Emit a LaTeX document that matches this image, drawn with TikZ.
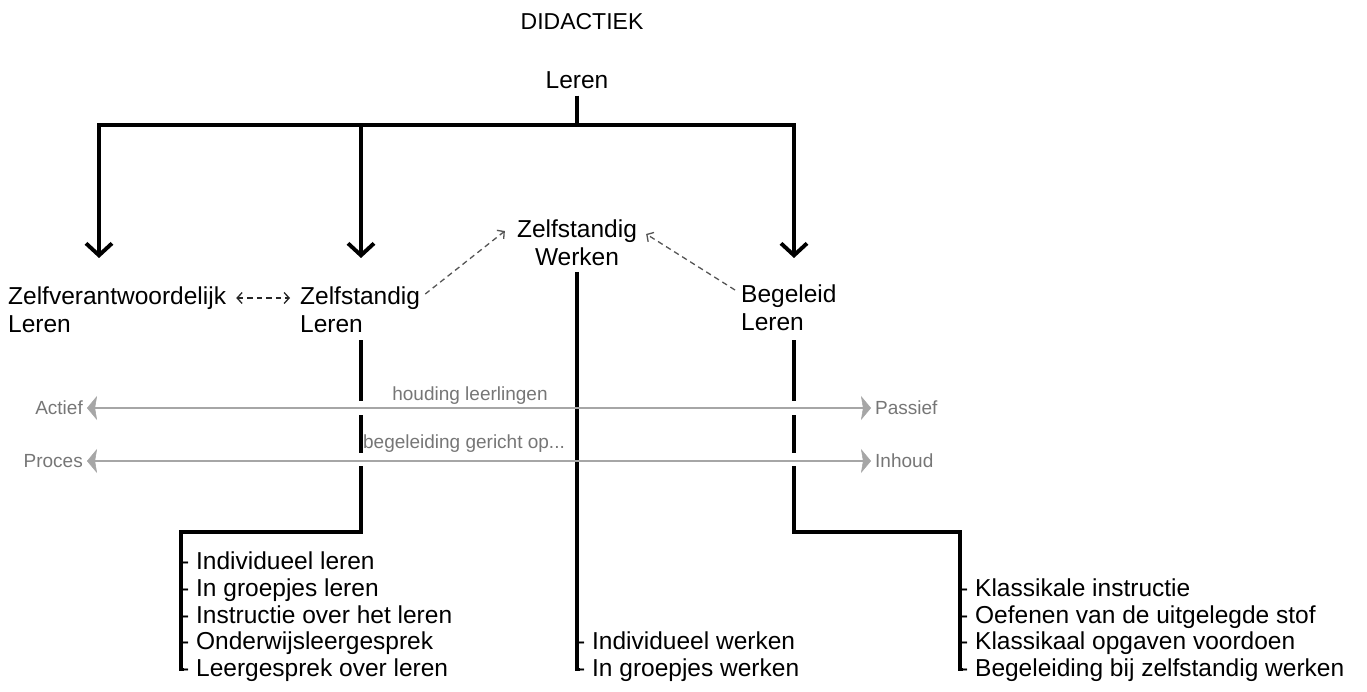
\documentclass[tikz,border=0pt]{standalone}
\usepackage{fontspec}
\setmainfont{Liberation Sans}
\usetikzlibrary{arrows.meta}
\definecolor{gline}{HTML}{A6A6A6}
\definecolor{gtext}{HTML}{767676}
\definecolor{dgray}{HTML}{555555}
\tikzset{
  dtip/.tip={Straight Barb[length=5pt,width=11pt]},
  gtip/.tip={Stealth[length=10pt,width=24pt,inset=2pt,line width=0.5pt]},
  btip/.tip={Straight Barb[length=12pt,width=26pt]}
}
\begin{document}
\begin{tikzpicture}[x=1pt,y=-1pt,
  main/.style={font=\fontsize{24.5}{28}\selectfont, inner sep=0pt, align=left},
  titlefont/.style={font=\fontsize{23}{27}\selectfont, inner sep=0pt},
  glabel/.style={font=\fontsize{19}{22}\selectfont, text=gtext, inner sep=0pt},
  item/.style={font=\fontsize{24.5}{28}\selectfont, inner sep=0pt, anchor=base west},
  bk/.style={line width=3.9pt, black},
  bkarrow/.style={bk, -btip},
  dsh/.style={line width=1.3pt, dash pattern=on 5.5pt off 4pt},
  gl/.style={line width=1.5pt, gline, gtip-gtip},
  gap/.style={white, line width=6.5pt}
]
\useasboundingbox (0,0) rectangle (1367,692);

% texts
\node[titlefont] (title) at (582,22) {DIDACTIEK};
\node[main, inner sep=7pt] (leren) at (577,80) {Leren};
\node[main, anchor=west] (zv) at (8,310) {Zelfverantwoordelijk\\Leren};
\node[main, anchor=west] (zl) at (300,310) {Zelfstandig\\Leren};
\node[main, align=center] (zw) at (577,243) {Zelfstandig\\Werken};
\node[main, anchor=west] (bl) at (741,308) {Begeleid\\Leren};

% tree coordinates
\coordinate (bus) at (577,125);
\coordinate (tipZV) at (99,258);
\coordinate (tipZL) at (361,258);
\coordinate (tipBL) at (794,258);
\coordinate (zlTop) at (361,340);
\coordinate (zlBend) at (361,532);
\coordinate (zlList) at (181,532);
\coordinate (blTop) at (794,340);
\coordinate (blBend) at (794,532);
\coordinate (blList) at (960,532);
\coordinate (zwTop) at (577,272);

% main top tree
\draw[bk] (leren.south) -- (bus);
\draw[bkarrow] (bus) -| (tipZV);
\draw[bkarrow] (bus) -| (tipZL);
\draw[bkarrow] (bus) -| (tipBL);

% list items
\node[item] (l1) at (181,569.5) {- Individueel leren};
\node[item] (l2) at (181,596.25) {- In groepjes leren};
\node[item] (l3) at (181,623) {- Instructie over het leren};
\node[item] (l4) at (181,649.75) {- Onderwijsleergesprek};
\node[item] (l5) at (181,676.5) {- Leergesprek over leren};

\node[item] (m1) at (577,649.75) {- Individueel werken};
\node[item] (m2) at (577,676.5) {- In groepjes werken};

\node[item] (r1) at (960,596.25) {- Klassikale instructie};
\node[item] (r2) at (960,623) {- Oefenen van de uitgelegde stof};
\node[item] (r3) at (960,649.75) {- Klassikaal opgaven voordoen};
\node[item] (r4) at (960,676.5) {- Begeleiding bij zelfstandig werken};

% lower tree lines
\draw[bk] (zlTop) -- (zlBend) -- (zlList) |- ([yshift=7pt,xshift=3pt]l5.base west);
\draw[bk] (zwTop) |- ([yshift=7pt,xshift=3pt]m2.base west);
\draw[bk] (blTop) -- (blBend) -- (blList) |- ([yshift=7pt,xshift=3pt]r4.base west);

% gaps in black lines where the grey scales cross
\draw[gap] (361,401) -- (361,415);
\draw[gap] (361,453) -- (361,466);
\draw[gap] (794,401) -- (794,415);
\draw[gap] (794,453) -- (794,466);

% grey scales
\node[glabel, anchor=east] (actief) at (83,408) {Actief};
\node[glabel, anchor=west] (passief) at (875,408) {Passief};
\node[glabel, anchor=east] (proces) at (83,461) {Proces};
\node[glabel, anchor=west] (inhoud) at (875,461) {Inhoud};
\node[glabel] (houding) at (470,396) {houding leerlingen};
\node[glabel] (begel) at (464,444) {begeleiding gericht op...};
\draw[gl] ([xshift=4pt]actief.east) -- ([xshift=-4pt]passief.west);
\draw[gl] ([xshift=4pt]proces.east) -- ([xshift=-4pt]inhoud.west);

% dashed relations
\draw[dsh, black!85, dtip-dtip] ([xshift=10pt,yshift=12pt]zv.east) -- ([xshift=-10pt,yshift=12pt]zl.west);
\draw[dsh, dgray, -dtip] ([xshift=5pt,yshift=16pt]zl.east) -- ([xshift=-12pt,yshift=12pt]zw.west);
\draw[dsh, dgray, -dtip] ([xshift=-6pt,yshift=18pt]bl.west) -- ([xshift=9pt,yshift=9pt]zw.east);
\end{tikzpicture}
\end{document}
